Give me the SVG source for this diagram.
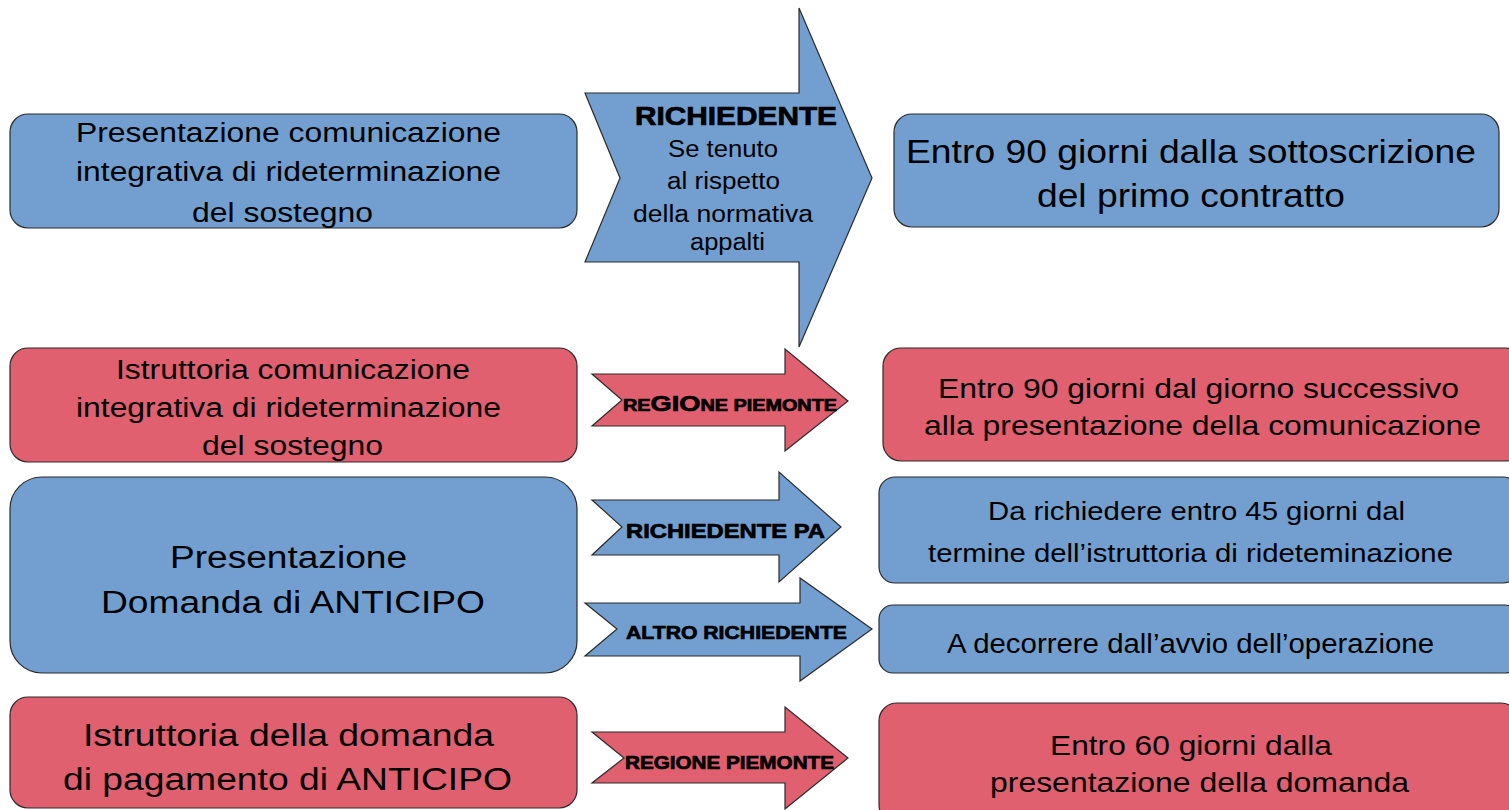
<svg xmlns="http://www.w3.org/2000/svg" width="1509" height="810" viewBox="0 0 1509 810">
<style>
.blue{fill:#729fcf;stroke:#2b2b2b;stroke-width:1.2}
.red{fill:#e06070;stroke:#2b2b2b;stroke-width:1.2}
text{font-family:"Liberation Sans",Arial,sans-serif;fill:#000}
.t{font-size:27px}
.tb{font-size:31px}
.lab{font-weight:bold;stroke:#000;stroke-width:0.7}
</style>
<rect width="1509" height="810" fill="#ffffff"/>

<g id="node-L1">
<rect class="blue" x="10" y="114" width="567" height="114" rx="18"/>
<text class="t" x="76" y="142" textLength="425" lengthAdjust="spacingAndGlyphs">Presentazione comunicazione</text>
<text class="t" x="76" y="181" textLength="425" lengthAdjust="spacingAndGlyphs">integrativa di rideterminazione</text>
<text class="t" x="192" y="222" textLength="181" lengthAdjust="spacingAndGlyphs">del sostegno</text>
</g>

<g id="node-L2">
<rect class="red" x="10" y="348" width="567" height="114" rx="18"/>
<text class="t" x="116" y="379" textLength="354" lengthAdjust="spacingAndGlyphs">Istruttoria comunicazione</text>
<text class="t" x="76" y="417" textLength="425" lengthAdjust="spacingAndGlyphs">integrativa di rideterminazione</text>
<text class="t" x="202" y="455" textLength="181" lengthAdjust="spacingAndGlyphs">del sostegno</text>
</g>

<g id="node-L3">
<rect class="blue" x="10" y="477" width="567" height="196" rx="32"/>
<text class="tb" x="170" y="568" textLength="237" lengthAdjust="spacingAndGlyphs">Presentazione</text>
<text class="tb" x="101" y="613" textLength="384" lengthAdjust="spacingAndGlyphs">Domanda di ANTICIPO</text>
</g>

<g id="node-L4">
<rect class="red" x="10" y="697" width="567" height="111" rx="18"/>
<text class="tb" x="83" y="746" textLength="411" lengthAdjust="spacingAndGlyphs">Istruttoria della domanda</text>
<text class="tb" x="63" y="790" textLength="449" lengthAdjust="spacingAndGlyphs">di pagamento di ANTICIPO</text>
</g>

<g id="node-R1">
<rect class="blue" x="894" y="114" width="605" height="113" rx="18"/>
<text class="tb" style="font-size:33px" x="906" y="163" textLength="570" lengthAdjust="spacingAndGlyphs">Entro 90 giorni dalla sottoscrizione</text>
<text class="tb" style="font-size:33px" x="1037" y="207" textLength="308" lengthAdjust="spacingAndGlyphs">del primo contratto</text>
</g>

<g id="node-R2">
<rect class="red" x="883" y="348" width="640" height="113" rx="18"/>
<text class="t" style="font-size:28px" x="938" y="398" textLength="521" lengthAdjust="spacingAndGlyphs">Entro 90 giorni dal giorno successivo</text>
<text class="t" style="font-size:28px" x="924" y="435" textLength="557" lengthAdjust="spacingAndGlyphs">alla presentazione della comunicazione</text>
</g>

<g id="node-R3">
<rect class="blue" x="879" y="477" width="640" height="106" rx="16"/>
<text class="t" style="font-size:25px" x="988" y="520" textLength="417" lengthAdjust="spacingAndGlyphs">Da richiedere entro 45 giorni dal</text>
<text class="t" style="font-size:25px" x="928" y="562" textLength="525" lengthAdjust="spacingAndGlyphs">termine dell’istruttoria di rideteminazione</text>
</g>

<g id="node-R4">
<rect class="blue" x="879" y="605" width="640" height="68" rx="14"/>
<text class="t" x="947" y="653" textLength="487" lengthAdjust="spacingAndGlyphs">A decorrere dall’avvio dell’operazione</text>
</g>

<g id="node-R5">
<rect class="red" x="879" y="703" width="640" height="120" rx="18"/>
<text class="t" style="font-size:28px" x="1050" y="755" textLength="282" lengthAdjust="spacingAndGlyphs">Entro 60 giorni dalla</text>
<text class="t" style="font-size:28px" x="990" y="792" textLength="419" lengthAdjust="spacingAndGlyphs">presentazione della domanda</text>
</g>

<g id="connectors">
<g id="arrow-richiedente">
<polygon class="blue" points="585,93 799,93 799,8 872,178 799,347 799,262 585,262 620,178"/>
<text class="lab" style="font-size:25px" x="635" y="125" textLength="202" lengthAdjust="spacingAndGlyphs">RICHIEDENTE</text>
<text class="t" style="font-size:23px" x="668" y="157" textLength="110" lengthAdjust="spacingAndGlyphs">Se tenuto</text>
<text class="t" style="font-size:23px" x="667" y="189" textLength="113" lengthAdjust="spacingAndGlyphs">al rispetto</text>
<text class="t" style="font-size:23px" x="633" y="222" textLength="180" lengthAdjust="spacingAndGlyphs">della normativa</text>
<text class="t" style="font-size:23px" x="690" y="250" textLength="75" lengthAdjust="spacingAndGlyphs">appalti</text>
</g>
<g id="arrow-regione-1">
<polygon class="red" points="592,374 785,374 785,349 848,401 785,451 785,426 592,426 622,400"/>
<text class="lab" x="623" y="411" textLength="214" lengthAdjust="spacingAndGlyphs"><tspan style="font-size:16px">RE</tspan><tspan style="font-size:22px">GIO</tspan><tspan style="font-size:16px">NE PIEMONTE</tspan></text>
</g>
<g id="arrow-richiedente-pa">
<polygon class="blue" points="592,500 779,500 779,472 841,527 779,582 779,555 592,555 622,527"/>
<text class="lab" style="font-size:20px" x="626" y="538" textLength="199" lengthAdjust="spacingAndGlyphs">RICHIEDENTE PA</text>
</g>
<g id="arrow-altro">
<polygon class="blue" points="585,603 800,603 800,578 872,629 800,681 800,656 585,656 617,629"/>
<text class="lab" style="font-size:19px" x="626" y="639" textLength="221" lengthAdjust="spacingAndGlyphs">ALTRO RICHIEDENTE</text>
</g>
<g id="arrow-regione-2">
<polygon class="red" points="592,732 785,732 785,707 848,758 785,809 785,783 592,783 624,758"/>
<text class="lab" style="font-size:18px" x="625" y="769" textLength="209" lengthAdjust="spacingAndGlyphs">REGIONE PIEMONTE</text>
</g>
</g>
</svg>
